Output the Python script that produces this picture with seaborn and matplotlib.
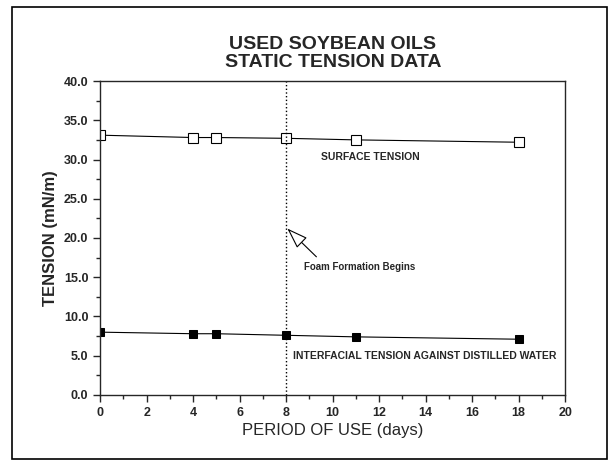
import numpy as np
import pandas as pd
import matplotlib
matplotlib.use("Agg")
import matplotlib.pyplot as plt
from matplotlib.ticker import MultipleLocator, FormatStrFormatter
from matplotlib.patches import Rectangle
import seaborn as sns

# data
days = [0, 4, 5, 8, 11, 18]
surface_tension = [33.1, 32.8, 32.8, 32.7, 32.5, 32.2]
interfacial_tension = [8.0, 7.8, 7.8, 7.6, 7.4, 7.1]
foam_day = 8

sns.set_style("ticks")
plt.rcParams['font.family'] = ['Liberation Sans', 'DejaVu Sans']

fig = plt.figure(figsize=(6.11, 4.63), dpi=100)
ax = fig.add_axes([0.164, 0.147, 0.761, 0.678])

df = pd.DataFrame({'day': days, 'surface': surface_tension, 'interfacial': interfacial_tension})

sns.lineplot(data=df, x='day', y='surface', ax=ax, color='black', linewidth=0.8,
             marker='s', markersize=7, markerfacecolor='white', markeredgecolor='black',
             markeredgewidth=0.8)
sns.lineplot(data=df, x='day', y='interfacial', ax=ax, color='black', linewidth=0.8,
             marker='s', markersize=6, markerfacecolor='black', markeredgecolor='black')

ax.axvline(foam_day, color='black', linestyle=':', linewidth=1.0)

ax.set_xlim(0, 20)
ax.set_ylim(0, 40)
ax.xaxis.set_major_locator(MultipleLocator(2))
ax.xaxis.set_minor_locator(MultipleLocator(1))
ax.yaxis.set_major_locator(MultipleLocator(5))
ax.yaxis.set_minor_locator(MultipleLocator(2.5))
ax.yaxis.set_major_formatter(FormatStrFormatter('%.1f'))
ax.tick_params(which='major', direction='out', length=5, width=1.0, labelsize=9)
ax.tick_params(which='minor', direction='out', length=3, width=1.0)
for lab in ax.get_xticklabels() + ax.get_yticklabels():
    lab.set_fontweight('bold')
for sp in ax.spines.values():
    sp.set_linewidth(1.0)
    sp.set_visible(True)

ax.set_xlabel('PERIOD OF USE (days)', fontsize=12, labelpad=3)
ax.set_ylabel('TENSION (mN/m)', fontsize=12, fontweight='bold', labelpad=4)
fig.text(0.545, 0.885, 'USED SOYBEAN OILS\nSTATIC TENSION DATA', ha='center', va='center',
         fontsize=14, fontweight='bold', linespacing=1.05)

ax.text(9.5, 30.3, 'SURFACE TENSION', fontsize=7.5, fontweight='bold', va='center')
ax.text(8.3, 5.0, 'INTERFACIAL TENSION AGAINST DISTILLED WATER', fontsize=7.5,
        fontweight='bold', va='center')
ax.annotate('', xy=(8.05, 21.2), xytext=(9.3, 17.6),
            arrowprops=dict(arrowstyle='-|>,head_length=1.3,head_width=0.45',
                            facecolor='white', edgecolor='black', linewidth=0.8,
                            shrinkA=0, shrinkB=0))
ax.text(8.75, 16.3, 'Foam Formation Begins', fontsize=7, fontweight='bold', va='center')

# outer frame around the figure
fig.patches.append(Rectangle((0.02, 0.008), 0.973, 0.977, transform=fig.transFigure,
                             fill=False, edgecolor='black', linewidth=1.2))

fig.savefig('out.png', dpi=100)
